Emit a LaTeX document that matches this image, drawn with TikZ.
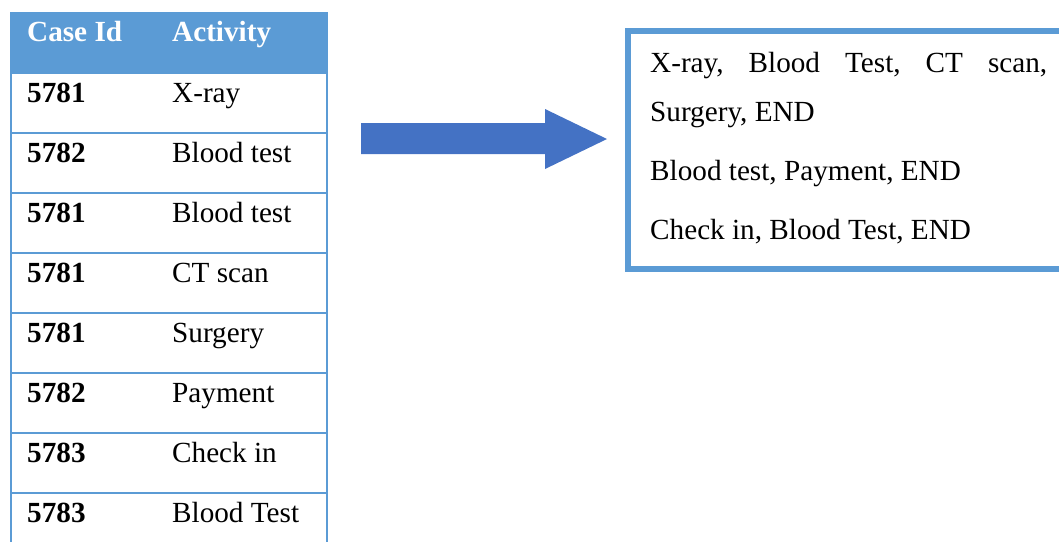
\documentclass[tikz,border=0pt]{standalone}
\usepackage{fontspec}
\setmainfont{Liberation Serif}
\definecolor{tblue}{HTML}{5B9BD5}
\definecolor{ablue}{HTML}{4472C4}
\begin{document}
\begin{tikzpicture}[x=1pt,y=-1pt,
  cell/.style={anchor=base west,inner sep=0pt,font=\fontsize{29.2}{35}\selectfont},
  idcell/.style={cell,font=\fontsize{29.2}{35}\selectfont\bfseries},
  headcell/.style={idcell,text=white},
  rule/.style={tblue,line width=2pt},
  seqline/.style={anchor=base west,inner sep=0pt,font=\fontsize{29.2}{35}\selectfont}]
\useasboundingbox (0,0) rectangle (1059,542);
\clip (0,0) rectangle (1059,542);
% event log table
\fill[tblue] (10,12) rectangle (328,73);
\foreach \yy in {73,133,193,253,313,373,433,493}
  \draw[rule] (10,\yy) -- (328,\yy);
\draw[rule] (11,12) -- (11,542);
\draw[rule] (327,12) -- (327,542);
\node[headcell] (hid) at (27,41) {Case Id};
\node[headcell] (hact) at (172,41) {Activity};
\foreach \i/\cid/\act in {1/5781/X-ray,2/5782/Blood test,3/5781/Blood test,4/5781/CT scan,5/5781/Surgery,6/5782/Payment,7/5783/Check in,8/5783/Blood Test}{
  \node[idcell] (id\i) at (27,42+60*\i) {\cid};
  \node[cell] (act\i) at (172,42+60*\i) {\act};
}
% block arrow
\fill[ablue] (361,123) -- (545,123) -- (545,109) -- (607,139) -- (545,169) -- (545,154) -- (361,154) -- cycle;
% traces box
\draw[tblue,line width=6pt] (627.5,31) rectangle (1070,268.5);
\node[seqline] (t1) at (650,72) {\hbox to 397pt{X-ray,\hfill Blood\hfill Test,\hfill CT\hfill scan,}};
\node[seqline] (t2) at (650,121) {Surgery, END};
\node[seqline] (t3) at (650,180) {Blood test, Payment, END};
\node[seqline] (t4) at (650,239) {Check in, Blood Test, END};
\end{tikzpicture}
\end{document}
